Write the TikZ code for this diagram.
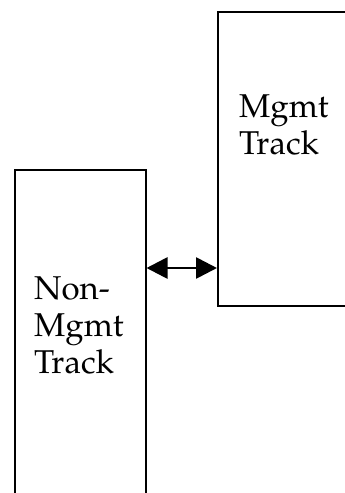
\documentclass[tikz,border=0pt]{standalone}
\usepackage[T1]{fontenc}
\usepackage{mathpazo}
\usetikzlibrary{arrows.meta}

\tikzset{
  trackbox/.style={draw=black, line width=2pt, rectangle, inner sep=0pt, anchor=north west},
  tracklabel/.style={anchor=north west, inner sep=0pt, align=left,
    font=\fontsize{33}{37}\selectfont},
  link/.style={line width=2.7pt, {Triangle[length=21pt,width=21pt]}-{Triangle[length=21pt,width=21pt]}}
}

\begin{document}
\begin{tikzpicture}[x=1pt, y=-1pt]
  \useasboundingbox (0,0) rectangle (345,493);
  \clip (0,0) rectangle (345,493);

  % the two tracks, each running past the edge of the page
  \node[trackbox, minimum width=131pt, minimum height=360pt] (nonmgmt) at (13.5,169) {};
  \node[trackbox, minimum width=160pt, minimum height=294pt] (mgmt) at (217,11) {};

  % labels
  \node[tracklabel] (mgmtlabel) at (239,94) {Mgmt\\Track};
  \node[tracklabel] (nonmgmtlabel) at (34,276) {Non-\\Mgmt\\Track};

  % two-way link between the tracks
  \coordinate (linklevel) at (0,268);
  \draw[link] (nonmgmt.east |- linklevel) -- (mgmt.west |- linklevel);
\end{tikzpicture}
\end{document}
